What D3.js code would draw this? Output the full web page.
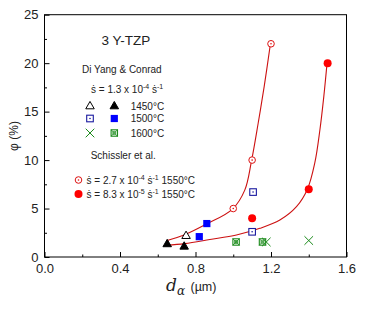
<!DOCTYPE html>
<html><head><meta charset="utf-8">
<script src="https://cdn.jsdelivr.net/npm/d3@7"></script>
<style>body{margin:0;background:#fff}svg{display:block}text{font-family:"Liberation Sans",Arial,"DejaVu Sans",sans-serif}</style>
</head><body><div id="c"></div>
<script>
// ---- data (d_alpha in µm, phi in %) ----
const xMajorTicks = [0.0, 0.4, 0.8, 1.2, 1.6];
const xMinorTicks = [0.2, 0.6, 1.0, 1.4];
const yMajorTicks = [0, 5, 10, 15, 20, 25];
const yMinorTicks = [2.5, 7.5, 12.5, 17.5, 22.5];

const tri1450OpenX = [0.75],            tri1450OpenY = [2.2];
const tri1450FilledX = [0.65, 0.74],    tri1450FilledY = [1.35, 1.1];
const sq1500OpenX = [1.10, 1.105],      sq1500OpenY = [2.6, 6.7];
const sq1500FilledX = [0.82, 0.86],     sq1500FilledY = [2.1, 3.45];
const x1600OpenX = [1.175, 1.40],       x1600OpenY = [1.55, 1.7];
const x1600FilledX = [1.015, 1.155],    x1600FilledY = [1.55, 1.55];
const sch27X = [1.0, 1.1, 1.2],         sch27Y = [5.0, 10.0, 22.0];
const sch83X = [1.1, 1.4, 1.5],         sch83Y = [4.0, 7.0, 20.0];

const fitUpperX = [0.646, 0.743, 0.858, 0.996, 1.061, 1.097, 1.132, 1.164, 1.197];
const fitUpperY = [1.68, 2.3, 3.4, 4.95, 6.9, 9.95, 13.8, 17.6, 22.0];
const fitLowerX = [0.646, 0.743, 0.876, 1.017, 1.141, 1.247, 1.335, 1.393, 1.432, 1.459, 1.480, 1.497];
const fitLowerY = [1.2, 1.38, 1.8, 2.27, 2.96, 3.82, 5.2, 7.0, 9.7, 13.1, 16.6, 20.0];

const zip = (a, b) => a.map((v, i) => [v, b[i]]);

// ---- layout ----
const W = 374, H = 311;
const L = 44.5, R = 346.5, T = 14.7, B = 257;
const svg = d3.select("#c").append("svg").attr("width", W).attr("height", H);
const x = d3.scaleLinear().domain([0, 1.6]).range([L, R]);
const y = d3.scaleLinear().domain([0, 25]).range([B, T]);

const tickCol = "#222";
// minor ticks
svg.append("g").attr("transform", `translate(0,${B})`)
  .call(d3.axisBottom(x).tickValues(xMinorTicks).tickSize(-2.5).tickFormat(""))
  .call(g => g.select(".domain").remove());
svg.append("g").attr("transform", `translate(${L},0)`)
  .call(d3.axisLeft(y).tickValues(yMinorTicks).tickSize(-2.5).tickFormat(""))
  .call(g => g.select(".domain").remove());
// major ticks
const xa = svg.append("g").attr("transform", `translate(0,${B})`)
  .call(d3.axisBottom(x).tickValues(xMajorTicks).tickSize(-5).tickPadding(7).tickFormat(d3.format(".1f")));
xa.select(".domain").remove();
xa.selectAll("text").attr("font-size", 13).attr("fill", tickCol)
  .style("font-family", '"Liberation Sans",Arial,sans-serif');
const ya = svg.append("g").attr("transform", `translate(${L},0)`)
  .call(d3.axisLeft(y).tickValues(yMajorTicks).tickSize(-5).tickPadding(6).tickFormat(d3.format("d")));
ya.select(".domain").remove();
ya.selectAll("text").attr("font-size", 13).attr("fill", tickCol)
  .style("font-family", '"Liberation Sans",Arial,sans-serif');
svg.selectAll(".tick line").attr("stroke", "#000");

// frame
svg.append("rect").attr("x", L).attr("y", T).attr("width", R - L).attr("height", B - T)
  .attr("fill", "none").attr("stroke", "#000").attr("stroke-width", 1);

// fitted curves
const line = d3.line().x(d => x(d[0])).y(d => y(d[1])).curve(d3.curveCatmullRom.alpha(0.5));
const curveCol = "#cc1111";
svg.append("path").attr("d", line(zip(fitUpperX, fitUpperY))).attr("fill", "none").attr("stroke", curveCol).attr("stroke-width", 1.1);
svg.append("path").attr("d", line(zip(fitLowerX, fitLowerY))).attr("fill", "none").attr("stroke", curveCol).attr("stroke-width", 1.1);

// ---- marker drawers ----
const red = "#ff0000", darkRed = "#dd1111", blue = "#0000ff", navy = "#1a1aa0", green = "#1a8a1a";
function mk(g, type, cx, cy) {
  if (type === "triOpen" || type === "triFilled") {
    const s = 8.5, h = s * 0.866;
    g.append("path").attr("d", `M${cx},${cy - h * 0.62}L${cx + s / 2},${cy + h * 0.38}L${cx - s / 2},${cy + h * 0.38}Z`)
      .attr("fill", type === "triFilled" ? "#000" : "#fff").attr("stroke", "#000").attr("stroke-width", 1);
  } else if (type === "sqOpen") {
    g.append("rect").attr("x", cx - 3.3).attr("y", cy - 3.3).attr("width", 6.6).attr("height", 6.6)
      .attr("fill", "#fff").attr("stroke", navy).attr("stroke-width", 1.1);
    g.append("circle").attr("cx", cx).attr("cy", cy).attr("r", 0.8).attr("fill", navy);
  } else if (type === "sqFilled") {
    g.append("rect").attr("x", cx - 3.6).attr("y", cy - 3.6).attr("width", 7.2).attr("height", 7.2).attr("fill", blue);
  } else if (type === "xOpen") {
    const s = 4.3;
    g.append("path").attr("d", `M${cx - s},${cy - s}L${cx + s},${cy + s}M${cx - s},${cy + s}L${cx + s},${cy - s}`)
      .attr("stroke", green).attr("stroke-width", 1).attr("fill", "none");
  } else if (type === "xFilled") {
    const s = 3.2;
    g.append("rect").attr("x", cx - s).attr("y", cy - s).attr("width", 2 * s).attr("height", 2 * s)
      .attr("fill", "#fff").attr("stroke", green).attr("stroke-width", 1.1);
    g.append("path").attr("d", `M${cx - s},${cy - s}L${cx + s},${cy + s}M${cx - s},${cy + s}L${cx + s},${cy - s}`)
      .attr("stroke", green).attr("stroke-width", 0.9);
    g.append("circle").attr("cx", cx).attr("cy", cy).attr("r", 1.6).attr("fill", "none").attr("stroke", green).attr("stroke-width", 0.8);
  } else if (type === "cOpen") {
    g.append("circle").attr("cx", cx).attr("cy", cy).attr("r", 3.3).attr("fill", "#fff").attr("stroke", darkRed).attr("stroke-width", 1);
    g.append("circle").attr("cx", cx).attr("cy", cy).attr("r", 0.8).attr("fill", darkRed);
  } else if (type === "cFilled") {
    g.append("circle").attr("cx", cx).attr("cy", cy).attr("r", 4).attr("fill", red);
  }
}
const pts = svg.append("g");
const series = [
  ["xFilled", x1600FilledX, x1600FilledY], ["xOpen", x1600OpenX, x1600OpenY],
  ["triOpen", tri1450OpenX, tri1450OpenY], ["triFilled", tri1450FilledX, tri1450FilledY],
  ["sqOpen", sq1500OpenX, sq1500OpenY], ["sqFilled", sq1500FilledX, sq1500FilledY],
  ["cOpen", sch27X, sch27Y], ["cFilled", sch83X, sch83Y]
];
series.forEach(([t, xs, ys]) => xs.forEach((v, i) => mk(pts, t, x(v), y(ys[i]))));

// ---- annotations ----
function rich(px, py, parts, size, anchor) {
  const t = svg.append("text").attr("x", px).attr("y", py).attr("font-size", size).attr("fill", "#222")
    .attr("text-anchor", anchor || "start");
  parts.forEach(p => {
    const ts = t.append("tspan").text(p.t);
    if (p.sup) ts.attr("dy", -4).attr("font-size", size * 0.7);
    else if (p.down) ts.attr("dy", 4);
  });
  return t;
}
rich(101.5, 45, [{t: "3 Y-TZP"}], 13.5);
rich(82, 72.5, [{t: "Di Yang & Conrad"}], 10);
rich(91, 92.7, [{t: "\u1E61 = 1.3 x 10"}, {t: "-4", sup: 1}, {t: " \u1E61", down: 1}, {t: "-1", sup: 1}], 10);
const legendRows = [["triOpen", "triFilled", "1450\u00B0C", 106], ["sqOpen", "sqFilled", "1500\u00B0C", 118.5], ["xOpen", "xFilled", "1600\u00B0C", 133]];
legendRows.forEach(([a, b, lab, ly]) => {
  mk(svg, a, 90, ly); mk(svg, b, 114.3, ly);
  rich(130.7, ly + 3.5, [{t: lab}], 10);
});
rich(90.7, 159.3, [{t: "Schissler et al."}], 10);
mk(svg, "cOpen", 78.5, 180);
rich(86.5, 183.5, [{t: "\u1E61 = 2.7 x 10"}, {t: "-4", sup: 1}, {t: " \u1E61", down: 1}, {t: "-1", sup: 1}, {t: " 1550\u00B0C", down: 1}], 10);
mk(svg, "cFilled", 78.5, 194);
rich(86.5, 197.5, [{t: "\u1E61 = 8.3 x 10"}, {t: "-5", sup: 1}, {t: " \u1E61", down: 1}, {t: "-1", sup: 1}, {t: " 1550\u00B0C", down: 1}], 10);

// axis titles
const xl = svg.append("text").attr("x", 166).attr("y", 290.5).attr("fill", "#222");
xl.append("tspan").text("d").attr("font-size", 17).attr("font-style", "italic").style("font-family", '"DejaVu Serif","Liberation Serif",serif');
xl.append("tspan").text("\u03B1").attr("font-size", 12).attr("font-style", "italic").attr("dy", 4).style("font-family", '"DejaVu Serif","Liberation Serif",serif');
svg.append("text").attr("x", 190.5).attr("y", 290.5).attr("font-size", 12.5).attr("fill", "#222").text("(\u00B5m)");
svg.append("text").attr("transform", "translate(18,136) rotate(-90)").attr("text-anchor", "middle")
  .attr("font-size", 12).attr("fill", "#222").text("\u03C6 (%)");
</script></body></html>
